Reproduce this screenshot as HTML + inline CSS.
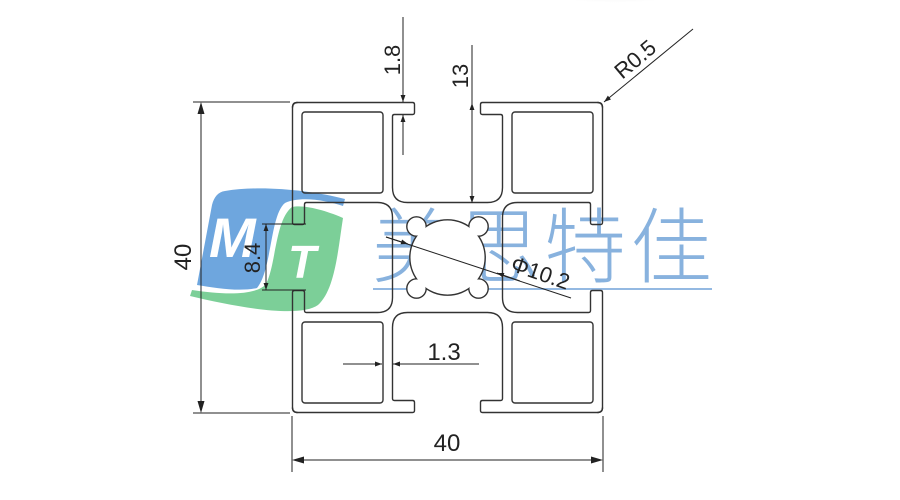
<!DOCTYPE html>
<html><head><meta charset="utf-8"><style>
html,body{margin:0;padding:0;background:#fff;}
svg{display:block;}
text{font-family:"Liberation Sans",sans-serif;fill:#222;}
</style></head><body>
<svg width="900" height="500" viewBox="0 0 900 500" xmlns="http://www.w3.org/2000/svg">
<defs>
<radialGradient id="sh" cx="50%" cy="0%" r="60%"><stop offset="0" stop-color="#e6e6e6"/><stop offset="1" stop-color="#fff"/></radialGradient>
<g id="q">
<path d="M -155,-150 Q -155,-155 -150,-155 L -35,-155 Q -33,-155 -33,-153 L -33,-145 Q -33,-143 -35,-143 L -53,-143 Q -55,-143 -55,-141 L -55,-70 Q -55,-55 -40,-55 L 40,-55 Q 55,-55 55,-70 L 55,-141 Q 55,-143 53,-143 L 35,-143 Q 33,-143 33,-145 L 33,-153 Q 33,-155 35,-155 L 150,-155 Q 155,-155 155,-150" fill="none" stroke="#333" stroke-width="1.4"/>
<rect x="-145.5" y="-145.5" width="81" height="81" rx="3" fill="none" stroke="#333" stroke-width="1.4"/>
</g>
<marker id="ar" viewBox="0 0 10 10" refX="10" refY="5" markerWidth="14" markerHeight="7" markerUnits="userSpaceOnUse" orient="auto"><path d="M0,1.5 L10,5 L0,8.5 Z" fill="#222"/></marker>
</defs>
<ellipse cx="615" cy="0" rx="70" ry="14" fill="url(#sh)"/>

<!-- logo -->
<g opacity="0.8">
<path d="M 225,191 C 260,185 310,190 345,199 L 343,206 C 325,200 300,196 285,203 C 270,215 272,270 257,288 C 240,292 215,288 197,285 L 212,205 C 214,197 218,192 225,191 Z" fill="#4a90d6"/>
<path d="M 292,207 C 305,204 330,212 343,218 C 338,250 335,290 318,305 C 300,318 240,308 190,296 L 192,290 C 230,296 258,294 266,284 C 276,265 275,220 292,207 Z" fill="#5cc47f"/>
</g>
<text x="209" y="257" font-size="56" font-weight="bold" font-style="italic" style="fill:#fff">M</text>
<text x="288" y="278" font-size="46" font-weight="bold" font-style="italic" style="fill:#fff">T</text>

<!-- CJK text -->
<text x="372" y="276" font-size="82" style="font-family:'Noto Sans CJK SC','WenQuanYi Zen Hei',sans-serif;font-weight:300;fill:#6b9fd6" opacity="0.8" textLength="340">美思特佳</text>
<line x1="373" y1="289" x2="712" y2="289" stroke="#7aa8dc" stroke-width="2" opacity="0.8"/>

<!-- profile -->
<g transform="translate(447.5,257.5)">
<use href="#q"/>
<use href="#q" transform="rotate(90)"/>
<use href="#q" transform="rotate(180)"/>
<use href="#q" transform="rotate(270)"/>
<g stroke="#333" stroke-width="2.8" fill="#333">
<circle r="37"/><circle cx="-31" cy="-31" r="9"/><circle cx="31" cy="-31" r="9"/><circle cx="-31" cy="31" r="9"/><circle cx="31" cy="31" r="9"/>
</g>
<g fill="#fff">
<circle r="37"/><circle cx="-31" cy="-31" r="9"/><circle cx="31" cy="-31" r="9"/><circle cx="-31" cy="31" r="9"/><circle cx="31" cy="31" r="9"/>
</g>
</g>

<!-- dims -->
<g stroke="#222" stroke-width="1">
<line x1="193" y1="102" x2="290" y2="102"/><line x1="193" y1="413" x2="290" y2="413"/>
<line x1="201" y1="105" x2="201" y2="410"/>
<line x1="292" y1="416" x2="292" y2="472"/><line x1="603" y1="416" x2="603" y2="472"/>
<line x1="295" y1="460" x2="600" y2="460"/>
<line x1="403" y1="17" x2="403" y2="102" marker-end="url(#ar)"/>
<line x1="403" y1="155" x2="403" y2="115" marker-end="url(#ar)"/>
<line x1="472" y1="45" x2="472" y2="103"/>
<line x1="472" y1="203" x2="472" y2="103" marker-end="url(#ar)"/>
<line x1="472" y1="103" x2="472" y2="203" marker-end="url(#ar)"/>
<line x1="693" y1="29" x2="604" y2="102" marker-end="url(#ar)"/>
<line x1="262" y1="224" x2="306" y2="224"/><line x1="262" y1="290" x2="306" y2="290"/>
<line x1="266" y1="257" x2="266" y2="224" marker-end="url(#ar)"/>
<line x1="266" y1="257" x2="266" y2="290" marker-end="url(#ar)"/>
<line x1="386" y1="237" x2="571" y2="298"/>
<line x1="386" y1="237" x2="408" y2="244" marker-end="url(#ar)"/>
<line x1="520" y1="281" x2="497" y2="273" marker-end="url(#ar)"/>
<line x1="343" y1="364" x2="382" y2="364" marker-end="url(#ar)"/>
<line x1="479" y1="364" x2="393" y2="364" marker-end="url(#ar)"/>
</g>
<path d="M201,102 l-3.5,12 h7z M201,413 l-3.5,-12 h7z M292,460 l12,-3.5 v7z M603,460 l-12,-3.5 v7z" fill="#222"/>

<text x="0" y="0" font-size="24" text-anchor="middle" transform="translate(191,257) rotate(-90)">40</text>
<text x="447" y="451" font-size="24" text-anchor="middle">40</text>
<text x="0" y="0" font-size="22" text-anchor="middle" transform="translate(400,60) rotate(-90)">1.8</text>
<text x="0" y="0" font-size="22" text-anchor="middle" transform="translate(468,76) rotate(-90)">13</text>
<text x="0" y="0" font-size="22" text-anchor="middle" transform="translate(640,65) rotate(-40)">R0.5</text>
<text x="0" y="0" font-size="22" text-anchor="middle" transform="translate(260,258) rotate(-90)">8.4</text>
<text x="0" y="0" font-size="22" text-anchor="middle" transform="translate(538,280) rotate(19)">Φ10.2</text>
<text x="444" y="360" font-size="24" text-anchor="middle">1.3</text>
</svg>
</body></html>
